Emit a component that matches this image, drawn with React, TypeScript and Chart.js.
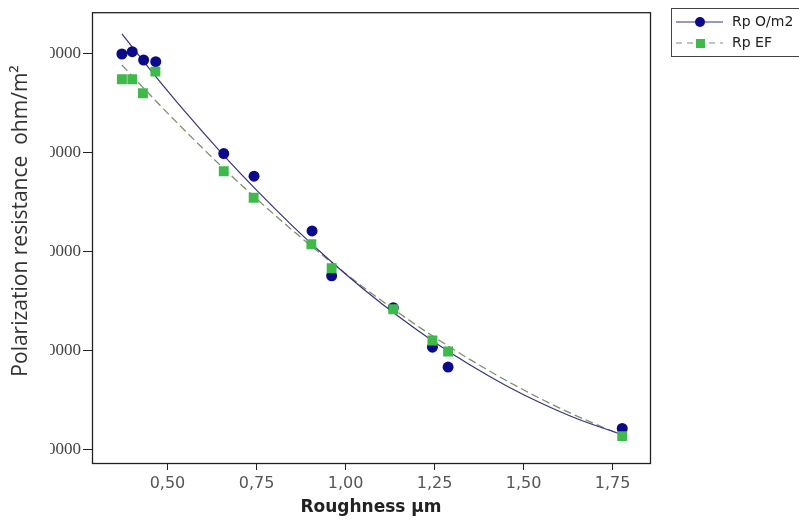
import React, { useEffect, useRef } from "react";
import { Chart, registerables } from "chart.js";

Chart.register(...registerables);

// Measured points
const roughnessO = [0.372, 0.401, 0.433, 0.467, 0.658, 0.743, 0.906, 0.961, 1.134, 1.244, 1.288, 1.777];
const rpO = [49970, 50200, 49365, 49194, 39900, 37607, 32065, 27531, 24300, 20307, 18292, 12086];
const roughnessEF = [0.372, 0.401, 0.431, 0.466, 0.658, 0.742, 0.904, 0.961, 1.134, 1.244, 1.288, 1.777];
const rpEF = [47411, 47411, 46000, 48186, 38111, 35421, 30725, 28300, 24150, 20982, 19874, 11310];

// Trend curves
const fitRoughness = [0.372, 0.45, 0.55, 0.65, 0.75, 0.85, 0.95, 1.05, 1.15, 1.25, 1.35, 1.45, 1.55, 1.65, 1.777];
const fitO = [52000, 48450, 44110, 40020, 36190, 32610, 29280, 26200, 23380, 20810, 18500, 16440, 14630, 13070, 11460];
const fitEF = [48860, 45870, 42180, 38660, 35320, 32160, 29180, 26380, 23760, 21310, 19050, 16960, 15050, 13330, 11390];

const xTickValues = [0.5, 0.75, 1.0, 1.25, 1.5, 1.75];
const xTickLabels = ["0,50", "0,75", "1,00", "1,25", "1,50", "1,75"];
const yTickValues = [10000, 20000, 30000, 40000, 50000];
const yTickLabels = ["10000", "20000", "30000", "40000", "50000"];

const seriesLabels = ["Rp O/m2", "Rp EF"];
const xTitle = "Roughness µm";
const yTitle = "Polarization resistance  ohm/m²";

const X_MIN = 0.288;
const X_MAX = 1.855;
const Y_MIN = 8589;
const Y_MAX = 54200;

const BLUE = "#0b0b8a";
const GREEN = "#3fb94a";
const BLUE_LINE = "#34347e";
const GREEN_LINE = "#7f8f6c";

function pts(xs: number[], ys: number[]) {
  return xs.map((x, i) => ({ x, y: ys[i] }));
}

const decorPlugin = {
  id: "decor",
  afterDraw(chart: any) {
    const { ctx, chartArea } = chart;
    const { left, top, right, bottom } = chartArea;
    ctx.save();
    // frame
    ctx.strokeStyle = "#222";
    ctx.lineWidth = 1.3;
    ctx.strokeRect(left + 0.5, top + 0.5, right - left, bottom - top);

    // mask clipping y tick labels
    ctx.fillStyle = "#ffffff";
    ctx.fillRect(34, 0, 16, bottom + 10);

    // y title
    ctx.fillStyle = "#333";
    ctx.font = '21px "Open Sans"';
    ctx.textAlign = "center";
    ctx.textBaseline = "middle";
    ctx.save();
    ctx.translate(21, 221);
    ctx.rotate(-Math.PI / 2);
    ctx.fillText(yTitle, 0, 0);
    ctx.restore();

    // x title
    ctx.fillStyle = "#222";
    ctx.font = 'bold 17px "DejaVu Sans"';
    ctx.textAlign = "center";
    ctx.textBaseline = "middle";
    ctx.fillText(xTitle, (left + right) / 2, 508);

    // legend
    ctx.strokeStyle = "#444";
    ctx.lineWidth = 1;
    ctx.strokeRect(671.5, 8.5, 150, 48);

    // entry 1
    ctx.strokeStyle = BLUE_LINE;
    ctx.lineWidth = 1.2;
    ctx.setLineDash([]);
    ctx.beginPath();
    ctx.moveTo(676, 22);
    ctx.lineTo(723, 22);
    ctx.stroke();
    ctx.fillStyle = BLUE;
    ctx.beginPath();
    ctx.arc(700, 22, 5, 0, Math.PI * 2);
    ctx.fill();

    // entry 2
    ctx.strokeStyle = GREEN_LINE;
    ctx.setLineDash([6, 5]);
    ctx.beginPath();
    ctx.moveTo(676, 43);
    ctx.lineTo(723, 43);
    ctx.stroke();
    ctx.setLineDash([]);
    ctx.fillStyle = GREEN;
    ctx.fillRect(696, 39, 9, 9);

    ctx.fillStyle = "#222";
    ctx.font = '14px "DejaVu Sans"';
    ctx.textAlign = "left";
    ctx.textBaseline = "middle";
    ctx.fillText(seriesLabels[0], 732, 22);
    ctx.fillText(seriesLabels[1], 732, 43);
    ctx.restore();
  },
};

export default function App() {
  const ref = useRef<HTMLCanvasElement>(null);

  useEffect(() => {
    if (!ref.current) return;
    const chart = new Chart(ref.current, {
      type: "scatter",
      data: {
        datasets: [
          {
            label: seriesLabels[1],
            data: pts(roughnessEF, rpEF),
            showLine: false,
            pointStyle: "rect",
            pointRadius: 7,
            pointHoverRadius: 7,
            backgroundColor: GREEN,
            borderColor: GREEN,
            borderWidth: 0,
            order: 0,
          },
          {
            label: seriesLabels[0],
            data: pts(roughnessO, rpO),
            showLine: false,
            pointStyle: "circle",
            pointRadius: 5.5,
            pointHoverRadius: 5.5,
            backgroundColor: BLUE,
            borderColor: BLUE,
            borderWidth: 0,
            order: 1,
          },
          {
            label: seriesLabels[0] + " fit",
            data: pts(fitRoughness, fitO),
            showLine: true,
            pointRadius: 0,
            borderColor: BLUE_LINE,
            borderWidth: 1.2,
            cubicInterpolationMode: "monotone",
            order: 2,
          },
          {
            label: seriesLabels[1] + " fit",
            data: pts(fitRoughness, fitEF),
            showLine: true,
            pointRadius: 0,
            borderColor: GREEN_LINE,
            borderWidth: 1.3,
            borderDash: [8, 4],
            cubicInterpolationMode: "monotone",
            order: 3,
          },
        ],
      } as any,
      options: {
        animation: false,
        responsive: false,
        maintainAspectRatio: false,
        layout: { padding: { top: 9, right: 149, left: 0, bottom: 0 } },
        plugins: {
          legend: { display: false },
          tooltip: { enabled: false },
        },
        scales: {
          x: {
            type: "linear",
            min: X_MIN,
            max: X_MAX,
            afterFit(scale: any) {
              scale.height = 60;
            },
            afterBuildTicks(scale: any) {
              scale.ticks = xTickValues.map((v) => ({ value: v }));
            },
            border: { display: false },
            grid: {
              display: true,
              drawOnChartArea: false,
              drawTicks: true,
              tickLength: 7,
              tickColor: "#222",
              color: "#222",
            },
            ticks: {
              padding: 4,
              color: "#555",
              font: { family: "DejaVu Sans", size: 16 },
              maxRotation: 0,
              callback: (_v: any, i: number) => xTickLabels[i],
            },
          },
          y: {
            type: "linear",
            min: Y_MIN,
            max: Y_MAX,
            afterFit(scale: any) {
              scale.width = 92;
            },
            afterBuildTicks(scale: any) {
              scale.ticks = yTickValues.map((v) => ({ value: v }));
            },
            border: { display: false },
            grid: {
              display: true,
              drawOnChartArea: false,
              drawTicks: true,
              tickLength: 9,
              tickColor: "#222",
              color: "#222",
            },
            ticks: {
              padding: 2,
              color: "#444",
              font: { family: "Liberation Serif", size: 17 },
              callback: (_v: any, i: number) => yTickLabels[i],
            },
          },
        },
      } as any,
      plugins: [decorPlugin],
    });
    return () => chart.destroy();
  }, []);

  return (
    <div style={{ position: "absolute", left: 0, top: 0, width: 799, height: 523, background: "#fff" }}>
      <canvas ref={ref} width={799} height={523} style={{ display: "block" }} />
    </div>
  );
}
